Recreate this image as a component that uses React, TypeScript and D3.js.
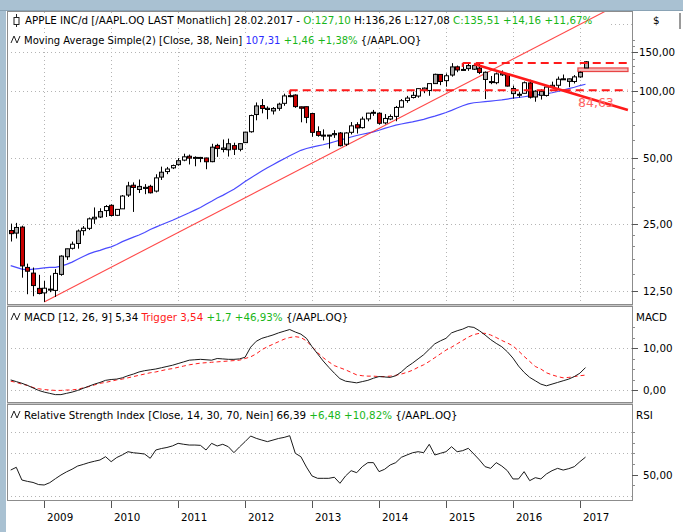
import React from "react";
import * as d3 from "d3";

// ---------- DATA (monthly, Jul 2008 .. Feb 2017) ----------
const firstMonth = [2008, 6]; // year, month index (0-based) of first candle
const years = ["2009", "2010", "2011", "2012", "2013", "2014", "2015", "2016", "2017"];

const opens = [
  23.46, 22.84, 24.31, 15.99, 15.07, 12.86, 12.27, 12.73, 12.59, 14.87,
  17.86, 19.5, 20.5, 23.43, 24.0, 26.48, 27.0, 28.86, 30.49, 27.48,
  29.39, 33.92, 37.57, 37.1, 36.33, 37.14, 35.35, 40.88, 43.29, 45.0,
  46.52, 48.76, 50.78, 50.16, 50.14, 49.86, 47.99, 56.83, 55.29, 54.29,
  56.71, 54.57, 58.49, 65.49, 78.31, 85.98, 83.56, 81.31, 83.53, 87.99,
  95.11, 95.88, 84.86, 84.97, 79.12, 65.59, 62.57, 63.13, 63.49, 64.64,
  57.53, 65.11, 70.44, 68.35, 74.86, 79.71, 79.38, 71.8, 74.77, 76.82,
  84.57, 90.57, 93.52, 94.9, 103.06, 100.59, 108.01, 118.81, 111.39, 118.05,
  128.58, 124.82, 126.2, 130.28, 126.9, 121.5, 110.15, 109.07, 119.87, 118.75,
  102.61, 96.47, 97.65, 108.78, 94.0, 99.6, 95.49, 104.41, 106.14, 113.46,
  113.46, 110.37, 115.8, 127.1,
];
const highs = [
  25.2, 25.4, 24.67, 16.63, 15.97, 14.8, 13.88, 14.71, 15.71, 18.14,
  19.43, 20.91, 23.71, 24.57, 26.86, 29.82, 29.57, 30.56, 30.8, 29.29,
  33.93, 38.92, 38.69, 39.86, 38.0, 37.75, 42.1, 45.57, 45.43, 46.57,
  49.8, 52.13, 51.67, 50.73, 50.43, 50.0, 57.79, 57.79, 60.41, 60.96,
  58.43, 58.0, 65.46, 78.23, 88.78, 92.0, 85.25, 84.64, 88.55, 97.27,
  100.72, 96.68, 84.99, 85.0, 79.29, 69.28, 67.14, 63.39, 66.54, 65.3,
  65.14, 72.43, 72.29, 76.57, 79.71, 82.16, 80.03, 78.71, 78.43, 85.63,
  92.02, 95.05, 99.44, 102.9, 103.74, 108.04, 119.75, 119.25, 120.0, 133.6,
  130.28, 134.54, 132.97, 131.39, 132.97, 122.57, 116.89, 121.22, 123.82, 119.86,
  105.85, 98.89, 110.42, 112.39, 100.73, 101.89, 104.55, 110.23, 116.18, 118.69,
  113.77, 118.02, 122.44, 136.26,
];
const lows = [
  20.93, 21.6, 14.37, 12.1, 11.85, 12.08, 11.17, 12.36, 11.76, 14.66,
  17.29, 19.26, 19.43, 22.29, 23.57, 25.14, 26.71, 27.0, 27.18, 27.26,
  29.35, 33.25, 28.46, 34.63, 34.23, 34.47, 34.86, 39.68, 42.14, 44.43,
  46.0, 48.21, 46.61, 45.74, 47.71, 44.36, 47.7, 50.43, 52.86, 50.61,
  51.43, 53.43, 58.43, 64.85, 73.75, 79.29, 74.6, 78.36, 81.43, 85.75,
  93.71, 83.96, 72.25, 71.6, 62.14, 62.2, 59.86, 55.01, 61.43, 56.22,
  56.43, 63.71, 64.29, 67.71, 73.0, 77.28, 70.51, 70.71, 73.86, 73.05,
  84.14, 88.5, 92.57, 93.28, 97.79, 95.18, 107.72, 106.26, 104.63, 116.08,
  121.63, 123.36, 123.36, 124.48, 119.22, 92.0, 107.36, 107.31, 116.86, 104.82,
  92.39, 93.42, 97.42, 92.51, 89.47, 91.5, 94.37, 104.0, 102.53, 112.28,
  104.08, 108.11, 114.76, 127.08,
];
const closes = [
  22.71, 24.22, 16.24, 15.37, 13.24, 12.19, 12.88, 12.76, 15.02, 17.98,
  19.4, 20.35, 23.34, 24.03, 26.48, 26.93, 28.56, 30.1, 27.44, 29.23,
  33.57, 37.3, 36.7, 35.93, 36.75, 34.73, 40.54, 43.0, 44.45, 46.08,
  48.47, 50.46, 49.79, 50.02, 49.69, 47.95, 55.78, 54.98, 54.47, 57.83,
  54.6, 57.86, 65.21, 77.49, 85.65, 83.43, 82.53, 83.43, 87.25, 95.03,
  95.3, 85.05, 83.61, 76.02, 65.07, 63.06, 63.24, 63.25, 64.25, 56.65,
  64.65, 69.6, 68.11, 74.67, 79.44, 80.15, 71.51, 75.18, 76.68, 84.3,
  90.43, 92.93, 95.6, 102.5, 100.75, 108.0, 118.93, 110.38, 117.16, 128.46,
  124.43, 125.15, 130.28, 125.43, 121.3, 112.76, 110.3, 119.5, 118.3, 105.26,
  97.34, 96.69, 108.99, 93.74, 99.86, 95.6, 104.21, 106.1, 113.05, 113.54,
  110.52, 115.82, 121.35, 135.51,
];
// candle category as shown by the source chart: w = hollow, g = grey, r = red
const candleKind = (
  "rgrrrrwgwg" + "gwgwwggwrw" + "wgrggrwgww" + "gwrwwrgrgg" + "rggwgrgggw" +
  "grrrrrgggr" + "wwrwwgrwww" + "wwwwgwgrwg" + "rgggrggwgr" + "ggwrggwwwg" + "gwgg"
).split("");

const sma38 = [
  16.3, 16.0, 15.7, 15.6, 15.7, 15.8, 15.9, 16.0, 16.0, 16.2,
  16.5, 16.9, 17.4, 17.9, 18.4, 18.8, 19.1, 19.5, 19.8, 20.3,
  20.9, 21.4, 21.9, 22.4, 23.0, 23.7, 24.3, 24.9, 25.5, 26.1,
  26.8, 27.5, 28.2, 29.0, 29.8, 30.8, 31.8, 32.9, 33.8, 34.9,
  36.0, 37.5, 39.0, 40.5, 42.0, 43.5, 45.0, 46.5, 48.0, 49.5,
  51.0, 52.5, 54.0, 55.0, 55.8, 56.5, 57.2, 58.0, 59.0, 60.0,
  61.0, 62.0, 63.0, 63.8, 64.6, 65.4, 66.5, 67.8, 69.0, 70.2,
  71.0, 71.8, 72.5, 73.5, 74.5, 75.8, 77.0, 78.5, 80.0, 81.8,
  83.8, 85.8, 87.5, 88.5, 89.0, 89.5, 90.0, 90.6, 91.2, 92.0,
  92.8, 93.5, 94.2, 95.0, 95.8, 96.5, 97.2, 98.2, 99.5, 101.0,
  102.5, 104.0, 105.85, 107.31,
];
const macd = [
  2.4, 2.0, 1.6, 1.1, 0.5, -0.1, -0.5, -0.8, -1.1, -1.1,
  -0.8, -0.5, -0.1, 0.4, 0.9, 1.4, 1.8, 2.3, 2.5, 2.6,
  2.9, 3.4, 3.8, 4.3, 4.6, 4.8, 5.0, 5.3, 5.6, 5.9,
  6.3, 6.7, 7.1, 7.2, 7.3, 7.2, 7.1, 7.5, 7.4, 7.3,
  7.3, 7.4, 7.8, 10.2, 11.6, 12.3, 12.7, 13.1, 13.6, 14.0,
  14.4, 13.8, 13.3, 12.3, 10.3, 8.6, 6.9, 5.4, 4.0, 2.7,
  2.1, 1.9, 1.7, 2.0, 2.3, 2.8, 3.2, 3.1, 3.0, 3.4,
  4.3, 5.5, 6.4, 7.4, 8.4, 9.7, 11.0, 11.7, 12.3, 13.6,
  14.1, 14.5, 15.1, 14.9, 14.1, 13.1, 12.0, 11.1, 10.3, 9.1,
  7.6, 5.7, 4.2, 3.0, 2.2, 1.4, 1.0, 1.4, 1.8, 2.2,
  2.6, 3.2, 4.0, 5.34,
];
const trigger = [
  2.1, 1.8, 1.4, 1.1, 0.6, 0.3, 0.1, 0.0, -0.1, -0.1,
  0.0, 0.0, 0.2, 0.5, 0.8, 1.2, 1.6, 1.8, 2.1, 2.4,
  2.6, 2.9, 3.2, 3.5, 3.8, 4.1, 4.3, 4.6, 4.9, 5.1,
  5.4, 5.7, 6.0, 6.2, 6.4, 6.5, 6.6, 6.7, 6.8, 6.9,
  7.0, 7.1, 7.5, 7.9, 8.6, 9.6, 10.3, 10.9, 11.5, 12.1,
  12.5, 12.7, 12.5, 11.7, 10.3, 8.9, 7.7, 6.7, 5.8, 5.3,
  4.8, 4.2, 3.6, 3.4, 3.3, 3.3, 3.2, 3.2, 3.3, 3.5,
  3.8, 4.2, 4.7, 5.4, 6.0, 6.8, 7.7, 8.6, 9.5, 10.2,
  11.0, 11.8, 12.6, 13.2, 13.5, 13.5, 13.1, 12.5, 11.8, 11.2,
  10.5, 9.3, 8.0, 6.8, 5.6, 5.0, 4.1, 3.6, 3.2, 2.9,
  3.0, 3.2, 3.4, 3.54,
];
const rsi = [
  54.2, 56.8, 44.8, 43.5, 42.5, 40.5, 40.1, 42.3, 46.0, 49.5,
  52.5, 55.0, 58.0, 59.5, 61.2, 62.5, 63.7, 66.8, 62.1, 66.0,
  68.5, 71.5, 70.5, 70.0, 69.3, 65.3, 73.1, 74.5, 75.5, 77.0,
  79.4, 78.5, 77.8, 77.8, 77.5, 73.1, 79.4, 76.9, 78.5, 76.2,
  70.6, 76.0, 81.0, 86.3, 84.1, 82.5, 81.0, 82.5, 84.0, 85.0,
  86.6, 70.0, 66.8, 57.0, 48.6, 46.4, 46.4, 46.4, 47.4, 41.7,
  48.6, 53.6, 51.7, 57.4, 61.2, 61.2, 52.7, 54.9, 59.0, 61.2,
  66.2, 68.4, 70.5, 71.5, 70.6, 78.5, 68.4, 70.0, 71.5, 76.2,
  71.5, 72.5, 74.7, 69.3, 63.7, 57.4, 55.8, 61.2, 58.0, 53.6,
  45.8, 45.8, 52.7, 44.2, 47.0, 45.8, 50.5, 53.6, 55.8, 54.2,
  55.5, 57.4, 62.1, 66.39,
];

// drawn objects (month index, price)
const supportLine = [[6, 11.17], [59, 54.9]];
const resistanceLine = [[83, 132.4], [110.6, 82.1]];
const resistanceLevels = [[50, 100.72], [81, 133.9]];
const gapZone = [102, 122.44, 127.08];
const lineLabel = "84,63";

const priceTicks = [12.5, 25, 50, 100, 150];
const priceGrid = [12.5, 25, 50, 100, 150, 200];
const priceMinor = [15, 17.5, 20, 22.5, 30, 35, 40, 45, 60, 70, 80, 90, 110, 120, 130, 140, 160, 170];
const macdTicks = [0, 10];
const macdMinor = [2.5, 5, 7.5, 12.5, 15];
const rsiTicks = [50];
const rsiGrid = [30, 70, 90];
const rsiMinor = [40, 60, 70, 80, 90];

// ---------- LAYOUT ----------
const W = 683, H = 532;
const L = 7, R = 632;
const P1 = [12, 304], P2 = [307, 402], P3 = [405, 500];
const FONT = "DejaVu Sans";
const FS = 10.3;
const GREEN = "#19b619", BLUE = "#2b2bff", RED = "#ff1a1a";

const fmt = (v: number) => d3.format(".2f")(v).replace(".", ",");

function Wave({ x, y }: { x: number; y: number }) {
  return (
    <path d={`M${x},${y + 3} L${x + 3},${y - 4} L${x + 6},${y + 3} L${x + 9},${y - 4}`}
      fill="none" stroke="#222" strokeWidth={1} />
  );
}

export default function App() {
  const n = closes.length;
  const x = d3.scaleLinear().domain([0, n - 1]).range([10.7, 585.5]);
  const yP = d3.scaleLog().domain([12.5, 150]).range([291.1, 52]);
  const yM = d3.scaleLinear().domain([0, 10]).range([390, 348]);
  const yR = d3.scaleLinear().domain([30, 70]).range([495.7, 453.3]);

  const idx = d3.range(n);
  const yearIdx = idx.filter((i) => (firstMonth[1] + i) % 12 === 0);

  const smaPath = d3.line<number>().x((i) => x(i)).y((i) => yP(sma38[i]))(idx) || "";
  const macdPath = d3.line<number>().x((i) => x(i)).y((i) => yM(macd[i]))(idx) || "";
  const trigPath = d3.line<number>().x((i) => x(i)).y((i) => yM(trigger[i]))(idx) || "";
  const rsiPath = d3.line<number>().x((i) => x(i)).y((i) => yR(rsi[i]))(idx) || "";

  // support line extended to the right (clipped at panel top)
  const [s0, s1] = supportLine;
  const sSlope = (Math.log(s1[1]) - Math.log(s0[1])) / (s1[0] - s0[0]);
  const sEndI = 125;
  const sEndV = Math.exp(Math.log(s0[1]) + sSlope * (sEndI - s0[0]));

  const fillOf = (k: string) => (k === "r" ? "#c80000" : k === "g" ? "#a9a9a9" : "#ffffff");
  const bw = 4;

  const gridStyle = { stroke: "#b4b4b4", strokeWidth: 1, strokeDasharray: "1,3" };

  return (
    <svg width={W} height={H} style={{ position: "absolute", left: 0, top: 0, background: "#fff" }}
      fontFamily={FONT} fontSize={FS}>
      <defs>
        <clipPath id="c1"><rect x={L + 1} y={P1[0]} width={R - L - 1} height={P1[1] - P1[0]} /></clipPath>
        <clipPath id="c2"><rect x={L + 1} y={P2[0]} width={R - L - 1} height={P2[1] - P2[0]} /></clipPath>
        <clipPath id="c3"><rect x={L + 1} y={P3[0]} width={R - L - 1} height={P3[1] - P3[0]} /></clipPath>
      </defs>
      <rect x={0} y={0} width={W} height={H} fill="#ffffff" />
      {/* window frame */}
      <rect x={0} y={0} width={W} height={10} fill="#a9c1d2" />
      <rect x={0} y={0} width={6} height={H} fill="#a9c1d2" />
      <line x1={0} x2={W} y1={10.5} y2={10.5} stroke="#8aa3b5" />
      <rect x={679} y={13} width={2} height={16} fill="#9a9a9a" />

      {/* grid lines */}
      <g clipPath="url(#c1)">
        {priceGrid.map((v) => (
          <line key={v} x1={L} x2={R} y1={Math.round(yP(v)) + 0.5} y2={Math.round(yP(v)) + 0.5} {...gridStyle} />
        ))}
        {yearIdx.map((i) => (
          <line key={i} x1={Math.round(x(i)) + 0.5} x2={Math.round(x(i)) + 0.5} y1={P1[0]} y2={P1[1]} {...gridStyle} />
        ))}
      </g>
      {macdTicks.map((v) => (
        <line key={v} x1={L} x2={R} y1={Math.round(yM(v)) + 0.5} y2={Math.round(yM(v)) + 0.5} {...gridStyle} />
      ))}
      {rsiGrid.map((v) => (
        <line key={v} x1={L} x2={R} y1={Math.round(yR(v)) + 0.5} y2={Math.round(yR(v)) + 0.5} {...gridStyle} />
      ))}

      {/* title backgrounds */}
      <rect x={9} y={13} width={600} height={15} fill="#fff" />
      <rect x={9} y={33} width={415} height={15} fill="#fff" />
      <rect x={9} y={310} width={598} height={14} fill="#fff" />
      <rect x={9} y={408} width={598} height={14} fill="#fff" />

      {/* price panel */}
      <g clipPath="url(#c1)">
        <path d={smaPath} fill="none" stroke={BLUE} strokeWidth={1.2} opacity={0.85} />
        <line x1={x(s0[0])} y1={yP(s0[1])} x2={x(sEndI)} y2={yP(sEndV)} stroke="#ff2a2a" strokeWidth={1.1} opacity={0.85} />
        {/* gap zone */}
        <rect x={x(gapZone[0]) - 2} y={yP(gapZone[2])} width={628 - (x(gapZone[0]) - 2)}
          height={yP(gapZone[1]) - yP(gapZone[2])} fill="#f6b9b9" stroke="#e84545" strokeWidth={1.2} />
        {idx.map((i) => {
          const cx = Math.round(x(i)) + 0.5;
          const o = yP(opens[i]), c = yP(closes[i]);
          const top = Math.min(o, c), bot = Math.max(o, c);
          const h = Math.max(1, bot - top);
          return (
            <g key={i}>
              <line x1={cx} x2={cx} y1={yP(highs[i])} y2={yP(lows[i])} stroke="#000" strokeWidth={1} />
              <rect x={cx - bw / 2} y={top} width={bw} height={h} fill={fillOf(candleKind[i])} stroke="#000" strokeWidth={1} />
            </g>
          );
        })}
        {resistanceLevels.map(([i, v]) => (
          <g key={i}>
            <line x1={x(i)} x2={628} y1={yP(v)} y2={yP(v)} stroke={RED} strokeWidth={2} strokeDasharray="8,5" />
            <line x1={x(i)} x2={x(i)} y1={yP(v)} y2={yP(v) + 4} stroke={RED} strokeWidth={2} />
          </g>
        ))}
        <line x1={x(resistanceLine[0][0])} y1={yP(resistanceLine[0][1])} x2={x(resistanceLine[1][0])}
          y2={yP(resistanceLine[1][1])} stroke={RED} strokeWidth={2.6} />
        <text x={578} y={107} fill="#ff6262" fontSize={12.5}>{lineLabel}</text>
      </g>

      {/* MACD panel */}
      <g clipPath="url(#c2)">
        <path d={trigPath} fill="none" stroke={RED} strokeWidth={1} strokeDasharray="4,3" />
        <path d={macdPath} fill="none" stroke="#1a1a1a" strokeWidth={1} />
      </g>

      {/* RSI panel */}
      <g clipPath="url(#c3)">
        <path d={rsiPath} fill="none" stroke="#1a1a1a" strokeWidth={1} />
      </g>

      {/* frame and separators */}
      <line x1={L + 0.5} x2={L + 0.5} y1={11} y2={500} stroke="#8c8c8c" />
      <line x1={R + 0.5} x2={R + 0.5} y1={11} y2={501} stroke="#8c8c8c" />
      <line x1={L} x2={R} y1={11.5} y2={11.5} stroke="#8c8c8c" />
      {[304, 402].map((y) => (
        <g key={y}>
          <rect x={L} y={y} width={R - L + 1} height={3} fill="#c6c6c6" />
          <line x1={L} x2={R + 1} y1={y + 0.5} y2={y + 0.5} stroke="#8c8c8c" />
          <line x1={L} x2={R + 1} y1={y + 2.5} y2={y + 2.5} stroke="#8c8c8c" />
        </g>
      ))}
      <line x1={L} x2={R + 1} y1={500.5} y2={500.5} stroke="#8c8c8c" />

      {/* right axis: price */}
      {priceMinor.map((v) => (
        <line key={v} x1={R} x2={R + 3} y1={Math.round(yP(v)) + 0.5} y2={Math.round(yP(v)) + 0.5} stroke="#8c8c8c" />
      ))}
      {priceTicks.map((v) => (
        <g key={v}>
          <line x1={R} x2={R + 6} y1={Math.round(yP(v)) + 0.5} y2={Math.round(yP(v)) + 0.5} stroke="#555" />
          <text x={v >= 100 ? 639 : 643} y={yP(v) + 4} fill="#000">{fmt(v)}</text>
        </g>
      ))}
      <text x={653} y={24} fill="#000">$</text>

      {/* right axis: MACD */}
      {macdMinor.map((v) => (
        <line key={v} x1={R} x2={R + 3} y1={Math.round(yM(v)) + 0.5} y2={Math.round(yM(v)) + 0.5} stroke="#8c8c8c" />
      ))}
      {macdTicks.map((v) => (
        <g key={v}>
          <line x1={R} x2={R + 6} y1={Math.round(yM(v)) + 0.5} y2={Math.round(yM(v)) + 0.5} stroke="#555" />
          <text x={643} y={yM(v) + 4} fill="#000">{fmt(v)}</text>
        </g>
      ))}
      <text x={636} y={321} fill="#000">MACD</text>

      {/* right axis: RSI */}
      {rsiMinor.map((v) => (
        <line key={v} x1={R} x2={R + 3} y1={Math.round(yR(v)) + 0.5} y2={Math.round(yR(v)) + 0.5} stroke="#8c8c8c" />
      ))}
      {rsiTicks.map((v) => (
        <g key={v}>
          <line x1={R} x2={R + 6} y1={Math.round(yR(v)) + 0.5} y2={Math.round(yR(v)) + 0.5} stroke="#555" />
          <text x={643} y={yR(v) + 4} fill="#000">{fmt(v)}</text>
        </g>
      ))}
      <text x={636} y={419} fill="#000">RSI</text>

      {/* x axis */}
      {yearIdx.map((i, k) => (
        <g key={i}>
          <line x1={Math.round(x(i)) + 0.5} x2={Math.round(x(i)) + 0.5} y1={501} y2={508} stroke="#555" />
          <text x={Math.round(x(i)) + 3} y={521} fill="#000">{years[k]}</text>
        </g>
      ))}

      {/* titles */}
      <g>
        <line x1={16.5} x2={16.5} y1={14} y2={27} stroke="#222" />
        <rect x={14} y={17.5} width={5} height={7} fill="#fff" stroke="#222" />
        <text x={25} y={24} style={{ whiteSpace: "pre" }}>
          <tspan fill="#000">APPLE INC/d [/AAPL.OQ LAST Monatlich] 28.02.2017 - </tspan>
          <tspan fill={GREEN}>O:127,10</tspan>
          <tspan fill="#000"> H:136,26 L:127,08 </tspan>
          <tspan fill={GREEN}>C:135,51 +14,16 +11,67%</tspan>
        </text>
        <Wave x={11} y={40} />
        <text x={24} y={44} fontSize={10} style={{ whiteSpace: "pre" }}>
          <tspan fill="#000">Moving Average Simple(2) [Close, 38, Nein] </tspan>
          <tspan fill={BLUE}>107,31</tspan>
          <tspan fill={GREEN}> +1,46 +1,38%</tspan>
          <tspan fill="#000"> {"{/AAPL.OQ}"}</tspan>
        </text>
        <Wave x={11} y={317} />
        <text x={24} y={321} style={{ whiteSpace: "pre" }}>
          <tspan fill="#000">MACD [12, 26, 9] 5,34 </tspan>
          <tspan fill={RED}>Trigger 3,54</tspan>
          <tspan fill={GREEN}> +1,7 +46,93%</tspan>
          <tspan fill="#000"> {"{/AAPL.OQ}"}</tspan>
        </text>
        <Wave x={11} y={415} />
        <text x={24} y={419} style={{ whiteSpace: "pre" }}>
          <tspan fill="#000">Relative Strength Index [Close, 14, 30, 70, Nein] 66,39 </tspan>
          <tspan fill={GREEN}>+6,48 +10,82%</tspan>
          <tspan fill="#000"> {"{/AAPL.OQ}"}</tspan>
        </text>
      </g>
    </svg>
  );
}
